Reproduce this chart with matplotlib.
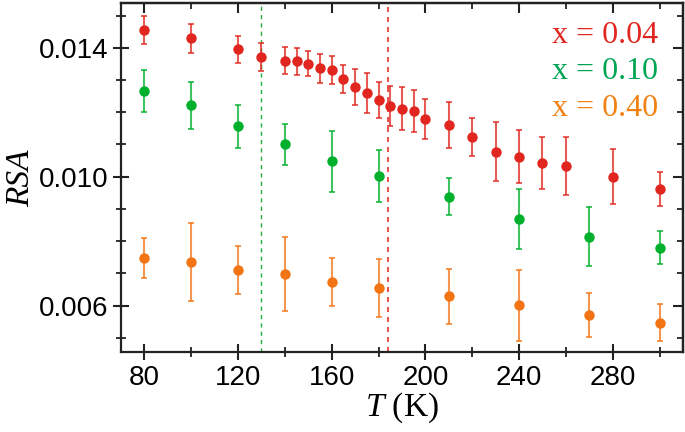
import matplotlib
matplotlib.use("Agg")
import matplotlib.pyplot as plt
from matplotlib.ticker import MultipleLocator, FixedLocator

plt.rcParams["mathtext.fontset"] = "custom"
plt.rcParams["mathtext.it"] = "Liberation Serif:italic"
plt.rcParams["mathtext.rm"] = "Liberation Serif"

# ---- data ----
T_red = [80, 100, 120, 130, 140, 145, 150, 155, 160, 165, 170, 175, 180, 185, 190, 195, 200,
         210, 220, 230, 240, 250, 260, 280, 300]
rsa_red = [0.01455, 0.01429, 0.01395, 0.01372, 0.01360, 0.01358, 0.01350, 0.01336, 0.01331,
           0.01302, 0.01277, 0.01261, 0.01238, 0.01219, 0.01211, 0.01204, 0.01180,
           0.01160, 0.01123, 0.01077, 0.01062, 0.01043, 0.01033, 0.01000, 0.00962]
err_red = [0.00044, 0.00044, 0.00042, 0.00043, 0.00042, 0.00042, 0.00039, 0.00045, 0.00044,
           0.00043, 0.00056, 0.00062, 0.00057, 0.00062, 0.00067, 0.00065, 0.00062,
           0.00072, 0.00060, 0.00092, 0.00082, 0.00081, 0.00089, 0.00085, 0.00054]

T_green = [80, 100, 120, 140, 160, 180, 210, 240, 270, 300]
rsa_green = [0.01267, 0.01221, 0.01156, 0.01100, 0.01048, 0.01002, 0.00938, 0.00870, 0.00814, 0.00780]
err_green = [0.00065, 0.00072, 0.00067, 0.00064, 0.00095, 0.00080, 0.00057, 0.00093, 0.00091, 0.00050]

T_orange = [80, 100, 120, 140, 160, 180, 210, 240, 270, 300]
rsa_orange = [0.00747, 0.00736, 0.00710, 0.00699, 0.00673, 0.00655, 0.00629, 0.00601, 0.00571, 0.00547]
err_orange = [0.00063, 0.00121, 0.00075, 0.00115, 0.00074, 0.00089, 0.00086, 0.00110, 0.00067, 0.00058]

labels = ["x = 0.04", "x = 0.10", "x = 0.40"]
vlines_T = [130, 184]
y_major = [0.006, 0.010, 0.014]

c_red = "#e0261e"
c_green = "#00b02c"
c_orange = "#f27415"
txt_colors = ["#e0261e", "#00a553", "#f38012"]

fig = plt.figure(figsize=(6.85, 4.32), dpi=100)
ax = fig.add_axes([0.1766, 0.1845, 0.997 - 0.1766, 0.9924 - 0.1845])

for T, v, e, c in [(T_red, rsa_red, err_red, c_red),
                   (T_green, rsa_green, err_green, c_green),
                   (T_orange, rsa_orange, err_orange, c_orange)]:
    ax.errorbar(T, v, yerr=e, fmt="none", ecolor=c, elinewidth=1.5,
                capsize=2.5, capthick=1.4, alpha=0.75, zorder=2)
    ax.plot(T, v, "o", color=c, ms=7.5, mec="none", zorder=3)

ax.axvline(vlines_T[0], color="#20b040", ls=(0, (3, 3)), lw=1.0, zorder=1)
ax.axvline(vlines_T[1], color="#e83030", ls=(0, (3, 3)), lw=1.2, zorder=1)

ax.set_xlim(70, 310)
ax.set_ylim(0.00455, 0.01538)
ax.xaxis.set_major_locator(MultipleLocator(40))
ax.xaxis.set_minor_locator(MultipleLocator(20))
ax.yaxis.set_major_locator(FixedLocator(y_major))
ax.yaxis.set_minor_locator(MultipleLocator(0.001))
ax.yaxis.set_major_formatter(plt.FuncFormatter(lambda v, p: f"{v:.3f}"))

for s in ax.spines.values():
    s.set_linewidth(1.6)
    s.set_color("#222222")

ax.tick_params(which="major", direction="inout", length=12, width=1.5, labelsize=20,
               colors="#222222", labelcolor="black", pad=3)
ax.tick_params(which="minor", direction="inout", length=7, width=1.3, colors="#222222")
for lab in ax.get_xticklabels() + ax.get_yticklabels():
    lab.set_family("Liberation Sans")

# top / right inward ticks
secx = ax.secondary_xaxis("top")
secx.xaxis.set_major_locator(MultipleLocator(40))
secx.xaxis.set_minor_locator(MultipleLocator(20))
secx.tick_params(which="major", direction="in", length=7, width=1.5, labeltop=False, colors="#222222")
secx.tick_params(which="minor", direction="in", length=4, width=1.3, colors="#222222")
secx.spines["top"].set_linewidth(1.6)
secy = ax.secondary_yaxis("right")
secy.yaxis.set_major_locator(FixedLocator(y_major))
secy.yaxis.set_minor_locator(MultipleLocator(0.001))
secy.tick_params(which="major", direction="in", length=7, width=1.5, labelright=False, colors="#222222")
secy.tick_params(which="minor", direction="in", length=4, width=1.3, colors="#222222")
secy.spines["right"].set_linewidth(1.6)

ax.set_ylabel("RSA", family="Liberation Serif", style="italic", fontsize=24, labelpad=2)
ax.set_xlabel(r"$T$ (K)", fontsize=24, labelpad=0, family="Liberation Serif")

ys = [35.8, 71.5, 108.5]
for lab, col, yp in zip(labels, txt_colors, ys):
    fig.text(658 / 685, 1 - yp / 432, lab, color=col, family="Liberation Serif",
             fontsize=23, ha="right", va="center")

fig.savefig("out.png", dpi=100)
